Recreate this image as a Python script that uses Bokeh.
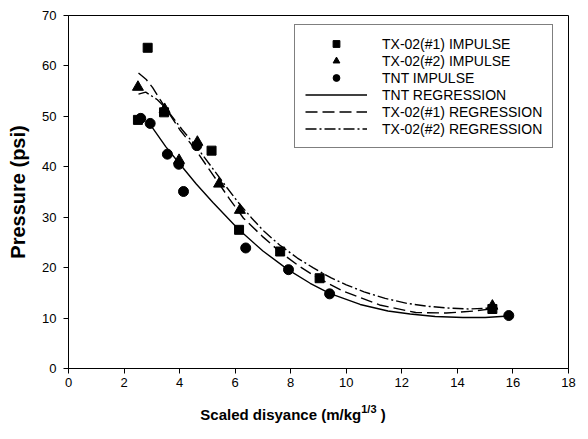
from bokeh.plotting import figure
from bokeh.models import Range1d, Legend, LegendItem, FixedTicker, Div
from bokeh.layouts import column
from bokeh.embed import file_html
from bokeh.resources import INLINE

# ---- data ----
x_ticks = [0, 2, 4, 6, 8, 10, 12, 14, 16, 18]
y_ticks = [0, 10, 20, 30, 40, 50, 60, 70]

# TX-02(#1) impulse (squares)
sq_x = [2.5, 2.85, 3.44, 5.15, 6.14, 7.62, 9.04, 15.26]
sq_y = [49.3, 63.6, 50.8, 43.2, 27.5, 23.2, 17.9, 11.8]
# TX-02(#2) impulse (triangles)
tri_x = [2.5, 3.46, 3.98, 4.64, 5.42, 6.17, 15.26]
tri_y = [55.8, 51.4, 41.3, 44.9, 36.6, 31.4, 12.4]
# TNT impulse (circles)
cir_x = [2.6, 2.94, 3.56, 3.97, 4.14, 4.62, 6.38, 7.92, 9.4, 15.85]
cir_y = [49.6, 48.6, 42.5, 40.5, 35.1, 44.2, 23.9, 19.6, 14.8, 10.5]

# TNT regression (solid)
tnt_rx = [2.9, 3.5, 4.0, 4.6, 5.2, 6.1, 7.0, 7.9, 8.7, 9.4, 10.5, 11.5, 12.3, 13.2, 14.2, 15.0, 15.85]
tnt_ry = [48.7, 44.0, 40.6, 36.6, 32.9, 27.7, 23.3, 19.6, 16.9, 14.9, 12.7, 11.4, 10.8, 10.3, 10.1, 10.1, 10.4]
# TX-02(#1) regression (dashed)
tx1_rx = [2.52, 2.8, 3.03, 3.3, 3.5, 4.0, 4.6, 5.2, 5.8, 6.3, 7.0, 7.64, 8.3, 8.96, 9.9, 11.2, 12.5, 13.6, 14.6, 15.2]
tx1_ry = [58.6, 57.3, 55.7, 53.3, 51.6, 47.4, 43.2, 38.4, 33.6, 29.8, 26.1, 23.0, 20.3, 18.0, 15.3, 12.6, 11.1, 11.0, 11.4, 11.8]
# TX-02(#2) regression (dash-dot)
tx2_rx = [2.52, 2.78, 3.2, 3.5, 4.1, 4.6, 5.2, 5.7, 6.1, 6.6, 7.04, 7.6, 8.24, 8.8, 9.44, 10.0, 10.64, 11.4, 12.2, 13.0, 13.64, 14.4, 15.26]
tx2_ry = [54.4, 54.8, 53.3, 51.6, 47.3, 44.0, 39.6, 35.9, 33.0, 29.8, 27.2, 24.5, 21.9, 20.0, 18.0, 16.6, 15.2, 13.9, 12.9, 12.3, 12.0, 11.8, 12.0]

x_title_main = "Scaled disyance (m/kg"
x_title_sup = "1/3"
x_title_end = " )"
y_title = "Pressure (psi)"

FONT = "Liberation Sans"

p = figure(width=580, height=405, x_range=Range1d(0, 18), y_range=Range1d(0, 70),
           output_backend="svg", toolbar_location=None,
           min_border_left=68, min_border_right=12, min_border_top=15, min_border_bottom=37)
p.grid.visible = False
p.outline_line_color = "black"
p.outline_line_width = 1
p.background_fill_color = "white"
p.border_fill_color = "white"

for ax in (p.xaxis[0], p.yaxis[0]):
    ax.axis_line_color = "black"
    ax.major_tick_line_color = "black"
    ax.minor_tick_line_color = None
    ax.major_tick_in = 0
    ax.major_tick_out = 5
    ax.major_label_text_font = FONT
    ax.major_label_text_font_size = "13px"
    ax.major_label_text_color = "black"

p.xaxis[0].ticker = FixedTicker(ticks=x_ticks)
p.yaxis[0].ticker = FixedTicker(ticks=y_ticks)
p.xaxis[0].major_label_standoff = 4
p.yaxis[0].major_label_standoff = 7

p.yaxis[0].axis_label = y_title
p.yaxis[0].axis_label_text_font = FONT
p.yaxis[0].axis_label_text_font_style = "bold"
p.yaxis[0].axis_label_text_font_size = "20px"
p.yaxis[0].axis_label_text_color = "black"
p.yaxis[0].axis_label_standoff = 10

lw = 1.4
r_tnt = p.line(tnt_rx, tnt_ry, line_color="black", line_width=lw)
r_tx1 = p.line(tx1_rx, tx1_ry, line_color="black", line_width=lw, line_dash="12 5")
r_tx2 = p.line(tx2_rx, tx2_ry, line_color="black", line_width=lw, line_dash="11 3 2 3")

r_sq = p.scatter(sq_x, sq_y, marker="square", size=9, fill_color="black", line_color="black")
r_tri = p.scatter(tri_x, tri_y, marker="triangle", size=11, fill_color="black", line_color="black")
r_cir = p.scatter(cir_x, cir_y, marker="circle", size=10, fill_color="black", line_color="black")

legend = Legend(items=[
    LegendItem(label="TX-02(#1) IMPULSE", renderers=[r_sq]),
    LegendItem(label="TX-02(#2) IMPULSE", renderers=[r_tri]),
    LegendItem(label="TNT IMPULSE", renderers=[r_cir]),
    LegendItem(label="TNT REGRESSION", renderers=[r_tnt]),
    LegendItem(label="TX-02(#1) REGRESSION", renderers=[r_tx1]),
    LegendItem(label="TX-02(#2) REGRESSION", renderers=[r_tx2]),
], location=(226, 220))
legend.label_text_font = FONT
legend.label_text_font_size = "14px"
legend.label_text_color = "black"
legend.label_height = 17
legend.glyph_height = 17
legend.glyph_width = 62
legend.label_standoff = 15
legend.spacing = 0
legend.padding = 10
legend.margin = 0
legend.border_line_color = "black"
legend.border_line_width = 1
legend.background_fill_color = "white"
legend.background_fill_alpha = 1
p.add_layout(legend, "center")

# x-axis title with a real superscript, as HTML text under the figure
title_html = (
    f'<div style="width:580px;text-align:center;font-family:\'{FONT}\';'
    f'font-weight:bold;font-size:15px;color:black;line-height:17px;padding-top:1px;padding-left:6px;">'
    f'{x_title_main}<span style="font-size:11px;line-height:0;vertical-align:7px;">{x_title_sup}</span>'
    f'{x_title_end}</div>'
)
div = Div(text=title_html, width=580, height=26, margin=(0, 0, 0, 0))

layout = column(p, div, spacing=0)
open("out.html", "w").write(file_html(layout, INLINE))
